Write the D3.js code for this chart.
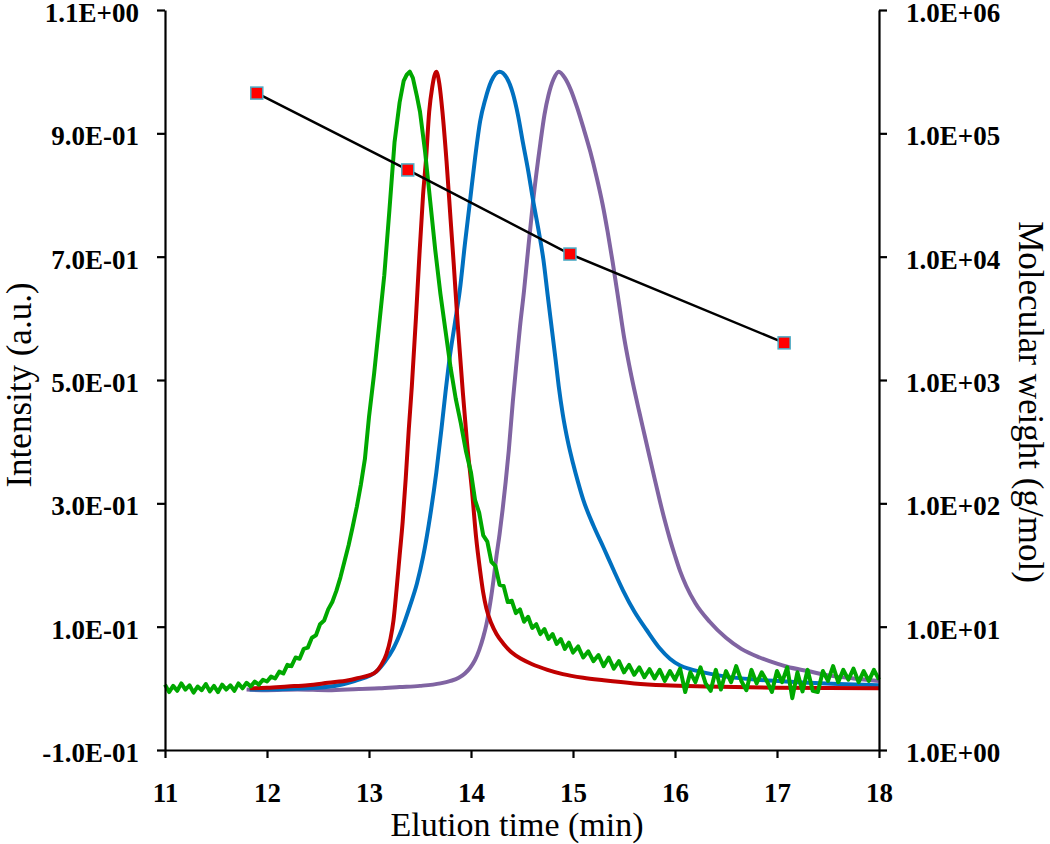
<!DOCTYPE html>
<html>
<head>
<meta charset="utf-8">
<script src="https://cdn.jsdelivr.net/npm/d3@7"></script>
<style>
  html, body { margin: 0; padding: 0; background: #fff; }
  svg { display: block; }
  text { font-family: "Liberation Serif", "Times New Roman", serif; fill: #000; }
</style>
</head>
<body>
<svg id="chart" width="1050" height="844"></svg>
<script>
// ---------- DATA ----------
const xTicks = [11, 12, 13, 14, 15, 16, 17, 18];
const xTickLabels = ["11", "12", "13", "14", "15", "16", "17", "18"];
const leftTicks = [-0.1, 0.1, 0.3, 0.5, 0.7, 0.9, 1.1];
const leftTickLabels = ["-1.0E-01", "1.0E-01", "3.0E-01", "5.0E-01", "7.0E-01", "9.0E-01", "1.1E+00"];
const rightTicks = [1, 10, 100, 1000, 10000, 100000, 1000000];
const rightTickLabels = ["1.0E+00", "1.0E+01", "1.0E+02", "1.0E+03", "1.0E+04", "1.0E+05", "1.0E+06"];

// Molecular weight calibration points (elution time, g/mol)
const mwTime = [11.90, 13.38, 14.97, 17.07];
const mwValue = [212000, 50500, 10500, 2000];

// Intensity traces [elution time, intensity]
const purpleTrace = [
  [11.80,-0.002],[12.00,-0.003],[12.30,-0.002],[12.60,-0.003],[12.90,-0.001],[13.10,0.000],[13.30,0.002],
  [13.50,0.004],[13.70,0.008],[13.80,0.012],[13.88,0.017],[13.94,0.024],[13.99,0.033],[14.04,0.046],
  [14.08,0.062],[14.12,0.083],[14.15,0.103],[14.19,0.140],[14.22,0.175],[14.25,0.215],[14.28,0.250],
  [14.31,0.290],[14.34,0.335],[14.37,0.385],[14.41,0.465],[14.45,0.535],[14.48,0.586],[14.52,0.645],
  [14.55,0.695],[14.61,0.792],[14.68,0.884],[14.72,0.930],[14.76,0.962],[14.81,0.988],[14.86,1.000],
  [14.92,0.990],[14.98,0.970],[15.04,0.942],[15.10,0.910],[15.17,0.870],[15.23,0.830],[15.29,0.785],
  [15.34,0.740],[15.39,0.690],[15.45,0.625],[15.50,0.570],[15.55,0.525],[15.60,0.485],[15.65,0.448],
  [15.70,0.412],[15.75,0.376],[15.80,0.340],[15.85,0.305],[15.90,0.272],[15.95,0.242],[16.00,0.215],
  [16.05,0.190],[16.11,0.166],[16.20,0.138],[16.34,0.108],[16.50,0.082],[16.65,0.064],[16.83,0.050],
  [17.00,0.040],[17.10,0.035],[17.30,0.028],[17.50,0.021],[17.75,0.016],[18.00,0.012]
];
const blueTrace = [
  [11.83,-0.002],[12.20,-0.001],[12.50,0.001],[12.70,0.005],[12.80,0.009],[12.90,0.014],[13.00,0.020],
  [13.07,0.027],[13.15,0.042],[13.24,0.065],[13.32,0.095],[13.40,0.133],[13.47,0.170],[13.53,0.213],
  [13.60,0.280],[13.66,0.350],[13.71,0.420],[13.75,0.480],[13.79,0.535],[13.84,0.590],[13.89,0.645],
  [13.94,0.720],[13.99,0.790],[14.04,0.860],[14.09,0.920],[14.14,0.955],[14.20,0.985],[14.28,1.000],
  [14.35,0.990],[14.41,0.965],[14.46,0.930],[14.51,0.884],[14.56,0.840],[14.61,0.790],[14.66,0.745],
  [14.71,0.695],[14.75,0.640],[14.79,0.586],[14.83,0.532],[14.86,0.490],[14.90,0.444],[14.95,0.400],
  [15.00,0.365],[15.05,0.334],[15.10,0.306],[15.20,0.264],[15.30,0.228],[15.40,0.191],[15.49,0.159],
  [15.60,0.125],[15.72,0.095],[15.85,0.065],[15.95,0.048],[16.05,0.037],[16.15,0.031],[16.30,0.025],
  [16.50,0.019],[16.80,0.014],[17.20,0.010],[17.60,0.007],[18.00,0.005]
];
const redTrace = [
  [11.83,0.000],[12.00,0.001],[12.20,0.003],[12.40,0.005],[12.60,0.009],[12.80,0.013],[12.90,0.017],
  [13.00,0.021],[13.07,0.027],[13.12,0.038],[13.17,0.055],[13.21,0.080],[13.24,0.110],[13.27,0.160],
  [13.30,0.215],[13.33,0.270],[13.36,0.340],[13.39,0.420],[13.42,0.490],[13.46,0.600],[13.49,0.690],
  [13.53,0.800],[13.56,0.860],[13.59,0.935],[13.62,0.975],[13.66,1.000],[13.69,0.980],[13.72,0.935],
  [13.76,0.855],[13.80,0.760],[13.83,0.690],[13.87,0.590],[13.92,0.480],[13.96,0.400],[14.01,0.320],
  [14.05,0.245],[14.09,0.190],[14.12,0.155],[14.15,0.130],[14.20,0.105],[14.25,0.088],[14.32,0.072],
  [14.40,0.058],[14.50,0.047],[14.60,0.039],[14.75,0.030],[14.90,0.023],[15.10,0.017],[15.30,0.013],
  [15.60,0.008],[15.90,0.005],[16.30,0.003],[17.00,0.001],[18.00,0.000]
];
const greenTrace = [
  [11.00,0.006],[11.04,-0.006],[11.08,0.004],[11.12,-0.004],[11.16,0.008],[11.20,-0.002],[11.24,0.005],
  [11.28,-0.007],[11.32,0.003],[11.36,-0.003],[11.40,0.007],[11.44,-0.005],[11.48,0.004],[11.52,-0.006],
  [11.56,0.006],[11.60,-0.002],[11.64,0.005],[11.68,-0.004],[11.72,0.008],[11.76,0.000],[11.80,0.009],
  [11.84,0.003],[11.88,0.011],[11.92,0.006],[11.96,0.014],[12.00,0.011],[12.04,0.019],[12.08,0.016],
  [12.12,0.027],[12.16,0.024],[12.20,0.038],[12.24,0.036],[12.28,0.050],[12.32,0.048],[12.36,0.064],
  [12.40,0.066],[12.44,0.082],[12.48,0.086],[12.52,0.104],[12.56,0.110],[12.60,0.128],[12.64,0.140],
  [12.68,0.158],[12.72,0.180],[12.76,0.206],[12.80,0.232],[12.84,0.262],[12.88,0.294],[12.92,0.330],
  [12.96,0.372],[13.00,0.440],[13.05,0.510],[13.10,0.590],[13.15,0.670],[13.20,0.775],[13.25,0.885],
  [13.30,0.950],[13.34,0.985],[13.37,0.995],[13.40,1.000],[13.43,0.990],[13.47,0.960],[13.50,0.935],
  [13.55,0.870],[13.60,0.790],[13.65,0.710],[13.70,0.640],[13.75,0.580],[13.80,0.520],[13.85,0.470],
  [13.90,0.430],[13.95,0.385],[14.00,0.350],[14.04,0.305],[14.08,0.285],[14.12,0.248],[14.16,0.238],
  [14.20,0.205],[14.24,0.198],[14.28,0.168],[14.32,0.166],[14.36,0.140],[14.40,0.142],[14.44,0.122],
  [14.48,0.128],[14.52,0.108],[14.56,0.116],[14.60,0.098],[14.64,0.104],[14.68,0.088],[14.72,0.096],
  [14.76,0.080],[14.80,0.088],[14.84,0.072],[14.88,0.080],[14.92,0.064],[14.96,0.074],[15.00,0.058],
  [15.05,0.068],[15.10,0.050],[15.15,0.060],[15.20,0.044],[15.25,0.054],[15.30,0.036],[15.35,0.050],
  [15.40,0.032],[15.45,0.044],[15.50,0.026],[15.55,0.038],[15.60,0.022],[15.65,0.034],[15.70,0.018],
  [15.75,0.031],[15.80,0.016],[15.85,0.030],[15.90,0.012],[15.95,0.028],[16.00,0.014],[16.05,0.032],
  [16.10,-0.006],[16.15,0.026],[16.20,0.010],[16.25,0.034],[16.30,0.008],[16.35,-0.004],[16.40,0.030],
  [16.45,-0.002],[16.50,0.028],[16.55,0.010],[16.60,0.036],[16.65,0.012],[16.70,-0.003],[16.75,0.030],
  [16.80,0.008],[16.85,0.026],[16.90,0.012],[16.95,-0.006],[17.00,0.028],[17.05,0.010],[17.10,0.034],
  [17.15,-0.016],[17.20,0.026],[17.25,-0.005],[17.30,0.030],[17.35,-0.004],[17.40,-0.006],[17.45,0.028],
  [17.50,0.012],[17.55,0.036],[17.60,0.010],[17.65,0.030],[17.70,0.014],[17.75,0.032],[17.80,0.010],
  [17.85,0.028],[17.90,0.012],[17.95,0.030],[18.00,0.014]
];

const seriesOrder = [
  { trace: purpleTrace, color: "#8064a2", jagged: false },
  { trace: blueTrace,   color: "#0070c0", jagged: false },
  { trace: redTrace,    color: "#c00000", jagged: false },
  { trace: greenTrace,  color: "#00a800", jagged: true }
];

// ---------- CHART ----------
const svg = d3.select("#chart");
const plot = { left: 165, right: 879, top: 10, bottom: 750 };

const x = d3.scaleLinear().domain([11, 18]).range([plot.left, plot.right]);
const yL = d3.scaleLinear().domain([-0.1, 1.1]).range([plot.bottom, plot.top]);
const yR = d3.scaleLog().domain([1, 1e6]).range([plot.bottom, plot.top]);

const tickFont = 27;

// curves
const smoothLine = d3.line().x(d => x(d[0])).y(d => yL(d[1])).curve(d3.curveMonotoneX);
const jaggedLine = d3.line().x(d => x(d[0])).y(d => yL(d[1])).curve(d3.curveLinear);
seriesOrder.forEach(s => {
  svg.append("path")
    .datum(s.trace)
    .attr("d", s.jagged ? jaggedLine : smoothLine)
    .attr("fill", "none")
    .attr("stroke", s.color)
    .attr("stroke-width", 4)
    .attr("stroke-linejoin", "round");
});

// molecular weight line + markers
const mwData = mwTime.map((t, i) => [t, mwValue[i]]);
svg.append("path")
  .datum(mwData)
  .attr("d", d3.line().x(d => x(d[0])).y(d => yR(d[1])))
  .attr("fill", "none")
  .attr("stroke", "#000")
  .attr("stroke-width", 2.5);
svg.selectAll("rect.mw")
  .data(mwData)
  .enter().append("rect")
  .attr("class", "mw")
  .attr("x", d => x(d[0]) - 6)
  .attr("y", d => yR(d[1]) - 6)
  .attr("width", 12)
  .attr("height", 12)
  .attr("fill", "#ff0000")
  .attr("stroke", "#4bacc6")
  .attr("stroke-width", 1.5);

// axes
function styleAxis(g, vertical) {
  g.select(".domain").attr("stroke", "#000").attr("stroke-width", 2.2);
  g.selectAll(".tick line").attr("stroke", "#000").attr("stroke-width", 2.2);
  const t = g.selectAll(".tick text")
    .attr("font-family", "'Liberation Serif', 'Times New Roman', serif")
    .attr("font-weight", "bold")
    .attr("font-size", tickFont)
    .attr("fill", "#000");
  if (vertical) t.attr("dy", "0.42em");
}

const gx = svg.append("g")
  .attr("transform", `translate(0,${plot.bottom})`)
  .call(d3.axisBottom(x).tickValues(xTicks).tickSize(8).tickSizeOuter(0).tickPadding(25)
        .tickFormat((d, i) => xTickLabels[i]));
styleAxis(gx, false);

const gl = svg.append("g")
  .attr("transform", `translate(${plot.left},0)`)
  .call(d3.axisLeft(yL).tickValues(leftTicks).tickSize(8).tickSizeOuter(0).tickPadding(18)
        .tickFormat((d, i) => leftTickLabels[i]));
styleAxis(gl, true);

const gr = svg.append("g")
  .attr("transform", `translate(${plot.right},0)`)
  .call(d3.axisRight(yR).tickValues(rightTicks).tickSize(8).tickSizeOuter(0).tickPadding(19)
        .tickFormat((d, i) => rightTickLabels[i]));
styleAxis(gr, true);

// axis titles
svg.append("text")
  .attr("x", 517)
  .attr("y", 836)
  .attr("text-anchor", "middle")
  .attr("font-size", 34)
  .text("Elution time (min)");

svg.append("text")
  .attr("transform", `translate(31,385) rotate(-90)`)
  .attr("text-anchor", "middle")
  .attr("font-size", 35)
  .text("Intensity (a.u.)");

svg.append("text")
  .attr("transform", `translate(1019,402) rotate(90)`)
  .attr("text-anchor", "middle")
  .attr("font-size", 35)
  .text("Molecular weight (g/mol)");
</script>
</body>
</html>
